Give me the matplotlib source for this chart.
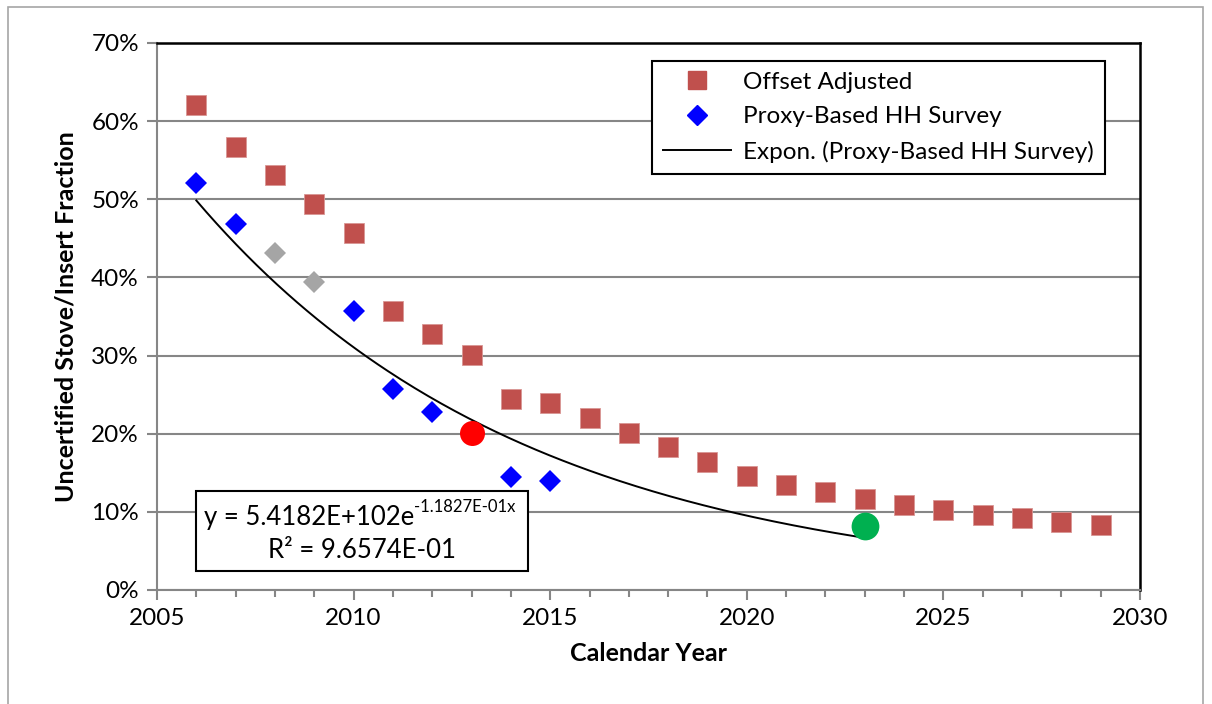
import numpy as np
import matplotlib
matplotlib.use("Agg")
import matplotlib.pyplot as plt
from matplotlib.ticker import PercentFormatter, MultipleLocator
from matplotlib.lines import Line2D
from matplotlib.patches import Rectangle

plt.rcParams["font.family"] = ["Lato", "DejaVu Sans"]

# --- data ---
offset_years = list(range(2006, 2030))
offset_vals = [0.621, 0.567, 0.531, 0.494, 0.457, 0.357, 0.328, 0.301, 0.244, 0.239,
               0.220, 0.201, 0.183, 0.164, 0.146, 0.134, 0.125, 0.116, 0.109, 0.102,
               0.096, 0.092, 0.087, 0.083]

proxy_years = [2006, 2007, 2010, 2011, 2012, 2014, 2015]
proxy_vals = [0.521, 0.468, 0.357, 0.257, 0.228, 0.145, 0.139]

excluded_years = [2008, 2009]
excluded_vals = [0.431, 0.394]

red_pt = (2013, 0.201)
green_pt = (2023, 0.082)

# trendline as printed on the chart
trend_a = 5.4182e102
trend_b = -1.1827e-01
trend_start, trend_end = 2006, 2023

RED = "#C0504D"
BLUE = "#0000FF"
GRID = "#868686"

fig = plt.figure(figsize=(12.12, 7.04), dpi=100)
ax = fig.add_axes([157 / 1212, 114 / 704, 983 / 1212, 547 / 704])

tx = np.linspace(trend_start, trend_end, 200)
ty = trend_a * np.exp(trend_b * tx)
ax.plot(tx, ty, color="black", lw=1.4, zorder=3)

ax.plot(offset_years, offset_vals, "s", color=RED, ms=14, mec="#D99694",
        mew=0.6, zorder=4)
ax.plot(proxy_years, proxy_vals, "D", color=BLUE, ms=11, mew=0, zorder=4)
ax.plot(excluded_years, excluded_vals, "D", color="#A5A5A5", ms=11, mew=0, zorder=4)
ax.plot(*red_pt, "o", color="#FF0000", ms=18, mew=0, zorder=5)
ax.plot(*green_pt, "o", color="#00B050", ms=20, mew=0, zorder=5)

ax.set_xlim(2005, 2030)
ax.set_ylim(0, 0.7)
ax.xaxis.set_major_locator(MultipleLocator(5))
ax.xaxis.set_minor_locator(MultipleLocator(1))
ax.yaxis.set_major_locator(MultipleLocator(0.1))
ax.yaxis.set_major_formatter(PercentFormatter(1.0, decimals=0))

ax.grid(axis="y", color=GRID, lw=1.5)
ax.set_axisbelow(True)
for side in ("left", "bottom"):
    ax.spines[side].set_color(GRID)
    ax.spines[side].set_linewidth(1.5)
for side in ("top", "right"):
    ax.spines[side].set_color("black")
    ax.spines[side].set_linewidth(1.8)

ax.tick_params(axis="both", which="major", direction="out", color=GRID,
               width=1.5, length=7, labelsize=17.5, pad=6)
ax.tick_params(axis="x", which="minor", direction="out", color=GRID,
               width=1.5, length=5)

ax.set_xlabel("Calendar Year", fontsize=18, fontweight="bold", labelpad=9)
ax.set_ylabel("Uncertified Stove/Insert Fraction", fontsize=18,
              fontweight="bold", labelpad=10)

handles = [
    Line2D([], [], ls="none", marker="s", color=RED, ms=13),
    Line2D([], [], ls="none", marker="D", color=BLUE, ms=10),
    Line2D([], [], color="black", lw=1.4),
]
labels = ["Offset Adjusted", "Proxy-Based HH Survey", "Expon. (Proxy-Based HH Survey)"]
leg = ax.legend(handles, labels, loc="upper right", bbox_to_anchor=(0.9644, 0.967),
                borderaxespad=0, fontsize=17.5, frameon=True, fancybox=False,
                edgecolor="black", framealpha=1, borderpad=0.45, labelspacing=0.55,
                handlelength=2.8, handletextpad=0.5)
leg.get_frame().set_linewidth(1.5)

# equation box (drawn in figure coordinates on top of the axes)
ax.add_patch(Rectangle((196 / 1212, 133 / 704), 332 / 1212, 80 / 704,
                       transform=fig.transFigure, fill=True, fc="white",
                       ec="black", lw=1.5, zorder=6, clip_on=False))
t1 = ax.text(204 / 1212, 186 / 704, "y = 5.4182E+102e", fontsize=18.5,
             va="center", ha="left", zorder=7, transform=fig.transFigure)
ax.annotate("-1.1827E-01x", xy=(1.0, 0.62), xycoords=t1, fontsize=12,
            va="bottom", ha="left", annotation_clip=False, zorder=7)
ax.text(362 / 1212, 153 / 704, "R\u00b2 = 9.6574E-01", fontsize=18.5,
        va="center", ha="center", zorder=7, transform=fig.transFigure)

# chart area border
fig.patches.append(Rectangle((8 / 1212, -0.05), 1195 / 1212, 1.05 - 7 / 704,
                             transform=fig.transFigure, fill=False,
                             ec="#A6A6A6", lw=1.2))

fig.savefig("out.png", dpi=100, facecolor="white")
